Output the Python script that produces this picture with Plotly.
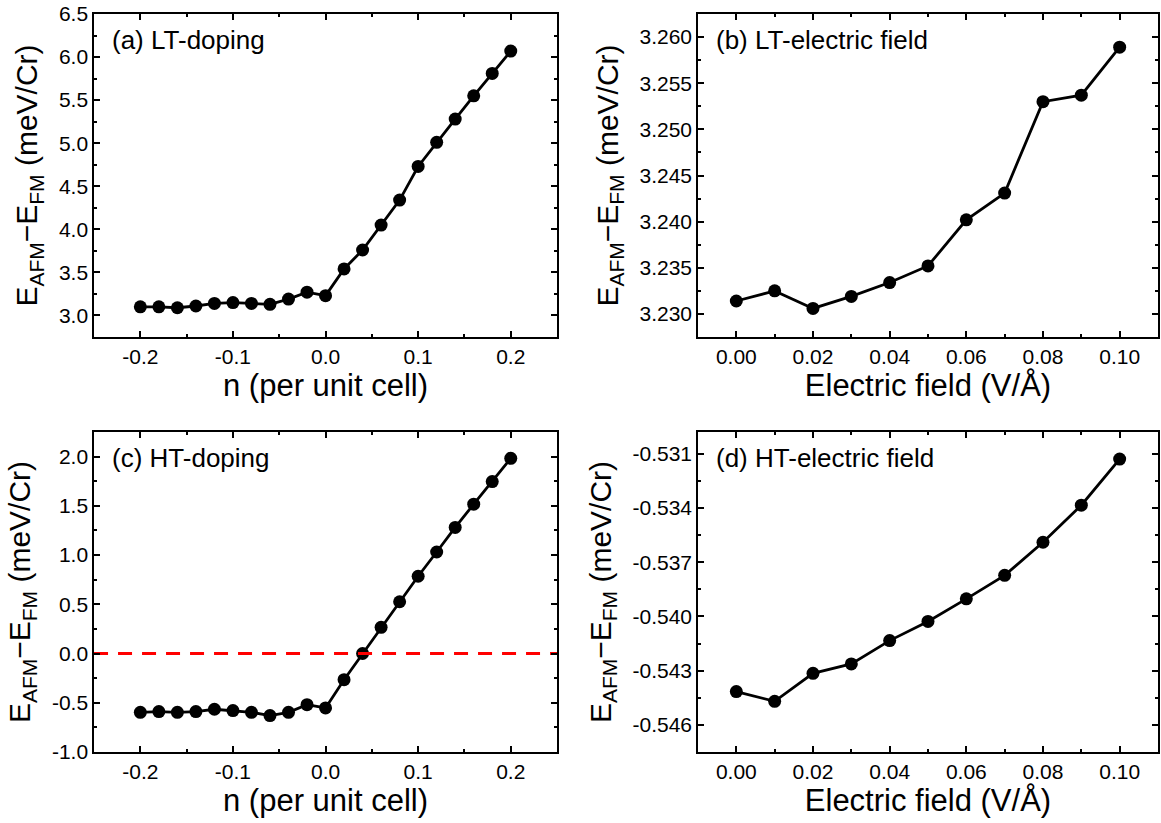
import plotly.graph_objects as go

# ---- data ----
n_doping = [-0.20, -0.18, -0.16, -0.14, -0.12, -0.10, -0.08, -0.06, -0.04, -0.02,
            0.00, 0.02, 0.04, 0.06, 0.08, 0.10, 0.12, 0.14, 0.16, 0.18, 0.20]
lt_doping = [3.10, 3.10, 3.09, 3.11, 3.14, 3.15, 3.14, 3.13, 3.19, 3.27,
             3.23, 3.54, 3.76, 4.05, 4.34, 4.73, 5.01, 5.28, 5.55, 5.81, 6.07]
ht_doping = [-0.597, -0.590, -0.597, -0.590, -0.566, -0.580, -0.597, -0.630, -0.597, -0.520,
             -0.553, -0.266, 0.000, 0.266, 0.526, 0.785, 1.031, 1.281, 1.517, 1.746, 1.983]

e_field = [0.00, 0.01, 0.02, 0.03, 0.04, 0.05, 0.06, 0.07, 0.08, 0.09, 0.10]
lt_field = [3.2314, 3.2325, 3.2306, 3.2319, 3.2334, 3.2352, 3.2402, 3.2431, 3.2530, 3.2537, 3.2589]
ht_field = [-0.54416, -0.54470, -0.54315, -0.54263, -0.54134, -0.54028, -0.53903,
            -0.53773, -0.53590, -0.53385, -0.53130]

# tick labels
x_doping_ticks = [-0.2, -0.1, 0.0, 0.1, 0.2]
x_doping_text = ["-0.2", "-0.1", "0.0", "0.1", "0.2"]
x_field_ticks = [0.00, 0.02, 0.04, 0.06, 0.08, 0.10]
x_field_text = ["0.00", "0.02", "0.04", "0.06", "0.08", "0.10"]
ya_ticks = [3.0, 3.5, 4.0, 4.5, 5.0, 5.5, 6.0, 6.5]
ya_text = ["3.0", "3.5", "4.0", "4.5", "5.0", "5.5", "6.0", "6.5"]
yb_ticks = [3.230, 3.235, 3.240, 3.245, 3.250, 3.255, 3.260]
yb_text = ["3.230", "3.235", "3.240", "3.245", "3.250", "3.255", "3.260"]
yc_ticks = [-1.0, -0.5, 0.0, 0.5, 1.0, 1.5, 2.0]
yc_text = ["-1.0", "-0.5", "0.0", "0.5", "1.0", "1.5", "2.0"]
yd_ticks = [-0.546, -0.543, -0.540, -0.537, -0.534, -0.531]
yd_text = ["-0.546", "-0.543", "-0.540", "-0.537", "-0.534", "-0.531"]

panel_labels = ["(a) LT-doping", "(b) LT-electric field", "(c) HT-doping", "(d) HT-electric field"]
x_titles = ["n (per unit cell)", "Electric field (V/Å)", "n (per unit cell)", "Electric field (V/Å)"]
y_title = "E<sub>AFM</sub>−E<sub>FM</sub> (meV/Cr)"

FONT = "Liberation Sans, Arial, sans-serif"

fig = go.Figure()

series = [(n_doping, lt_doping, "x", "y"),
          (e_field, lt_field, "x2", "y2"),
          (n_doping, ht_doping, "x3", "y3"),
          (e_field, ht_field, "x4", "y4")]
for xs, ys, xa, ya in series:
    fig.add_trace(go.Scatter(x=xs, y=ys, xaxis=xa, yaxis=ya, mode="lines+markers",
                             line=dict(color="black", width=2.8),
                             marker=dict(color="black", size=13, symbol="circle"),
                             showlegend=False))

# zero reference line in panel (c)
fig.add_trace(go.Scatter(x=[-0.25, 0.25], y=[0, 0], xaxis="x3", yaxis="y3", mode="lines",
                         line=dict(color="#ff0000", width=3, dash="14px,10px"),
                         showlegend=False))

xl = [0.081, 0.4798]
xr = [0.6012, 0.9974]
yt = [0.5905, 0.983]
yb = [0.0863, 0.4751]

def xaxis(domain, anchor, rng, tv, tt, dmin, title):
    return dict(domain=domain, anchor=anchor, range=rng, tickmode="array", tickvals=tv, ticktext=tt,
                ticks="inside", ticklen=6, tickwidth=1.5, tickcolor="black",
                minor=dict(ticks="inside", ticklen=3, tickwidth=1.5, tickcolor="black", dtick=dmin, tick0=0),
                showline=True, linecolor="black", linewidth=1.5, mirror="allticks",
                showgrid=False, zeroline=False, automargin=False,
                tickfont=dict(family=FONT, size=21, color="black"),
                title=dict(text=title, font=dict(family=FONT, size=31, color="black"), standoff=0))

def yaxis(domain, anchor, rng, tv, tt, dmin, tick0):
    return dict(domain=domain, anchor=anchor, range=rng, tickmode="array", tickvals=tv, ticktext=tt,
                ticks="inside", ticklen=6, tickwidth=1.5, tickcolor="black",
                minor=dict(ticks="inside", ticklen=3, tickwidth=1.5, tickcolor="black", dtick=dmin, tick0=tick0),
                showline=True, linecolor="black", linewidth=1.5, mirror="allticks",
                showgrid=False, zeroline=False, automargin=False,
                tickfont=dict(family=FONT, size=21, color="black"),
                title=dict(text=y_title, font=dict(family=FONT, size=30, color="black"), standoff=12))

fig.update_layout(
    width=1161, height=823,
    margin=dict(l=0, r=0, t=0, b=0),
    paper_bgcolor="white", plot_bgcolor="white",
    xaxis=xaxis(xl, "y", [-0.25, 0.25], x_doping_ticks, x_doping_text, 0.05, x_titles[0]),
    yaxis=yaxis(yt, "x", [2.75, 6.5], ya_ticks, ya_text, 0.25, 0),
    xaxis2=xaxis(xr, "y2", [-0.01, 0.11], x_field_ticks, x_field_text, 0.01, x_titles[1]),
    yaxis2=yaxis(yt, "x2", [3.2275, 3.2625], yb_ticks, yb_text, 0.0025, 3.23),
    xaxis3=xaxis(xl, "y3", [-0.25, 0.25], x_doping_ticks, x_doping_text, 0.05, x_titles[2]),
    yaxis3=yaxis(yb, "x3", [-1.0, 2.25], yc_ticks, yc_text, 0.25, 0),
    xaxis4=xaxis(xr, "y4", [-0.01, 0.11], x_field_ticks, x_field_text, 0.01, x_titles[3]),
    yaxis4=yaxis(yb, "x4", [-0.5475, -0.5298], yd_ticks, yd_text, 0.0015, -0.531),
)

for i, lab in enumerate(panel_labels):
    sfx = "" if i == 0 else str(i + 1)
    fig.add_annotation(text=lab, xref=f"x{sfx} domain", yref=f"y{sfx} domain",
                       x=0.035, y=0.92, xanchor="left", yanchor="middle", showarrow=False,
                       font=dict(family=FONT, size=26, color="black"))

fig.write_html("out.html", config={"displayModeBar": False},
               post_script="document.body.style.margin='0';")
